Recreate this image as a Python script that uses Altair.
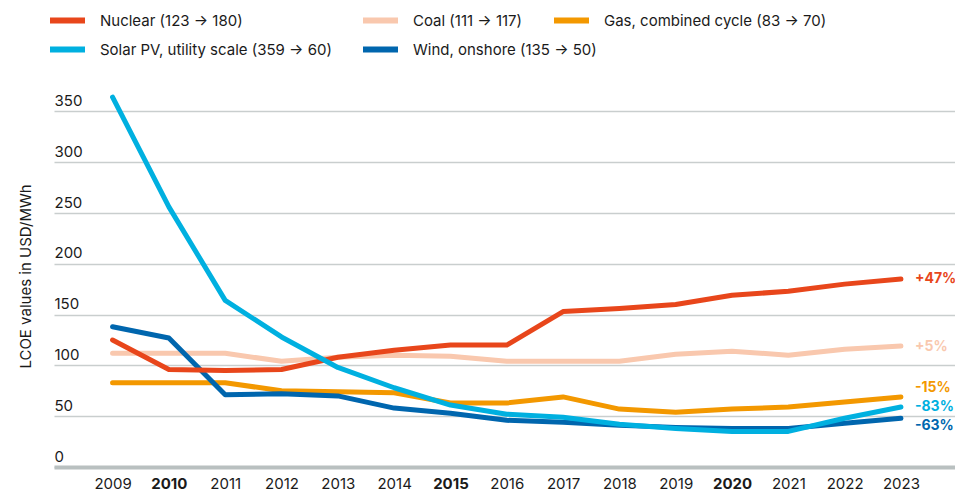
import altair as alt
import pandas as pd

years = list(range(2009, 2024))
series_names = ["Nuclear", "Coal", "Gas, combined cycle", "Solar PV, utility scale", "Wind, onshore"]
legend_labels = [
    "Nuclear (123 → 180)",
    "Coal (111 → 117)",
    "Gas, combined cycle (83 → 70)",
    "Solar PV, utility scale (359 → 60)",
    "Wind, onshore (135 → 50)",
]
nuclear = [125, 96, 95, 96, 108, 115, 120, 120, 153, 156, 160, 169, 173, 180, 185]
coal = [112, 112, 112, 104, 108, 110, 109, 104, 104, 104, 111, 114, 110, 116, 119]
gas = [83, 83, 83, 75, 74, 73, 63, 63, 69, 57, 54, 57, 59, 64, 69]
solar = [364, 256, 164, 128, 98, 78, 61, 52, 49, 42, 38, 35, 35, 48, 59]
wind = [138, 127, 71, 72, 70, 58, 53, 46, 44, 41, 39, 38, 38, 43, 48]
change_labels = ["+47%", "+5%", "-15%", "-83%", "-63%"]
y_ticks = [0, 50, 100, 150, 200, 250, 300, 350]

# styling
colors = ["#E8461B", "#F9C8AE", "#F39800", "#00B0E0", "#0066AE"]
label_nudge = [0, 1, -9, 0, 8]
legend_pos = {
    "Nuclear": (-7, -86),
    "Coal": (306, -86),
    "Gas, combined cycle": (497, -86),
    "Solar PV, utility scale": (-7, -57),
    "Wind, onshore": (306, -57),
}
draw_order = ["Gas, combined cycle", "Coal", "Wind, onshore", "Nuclear", "Solar PV, utility scale"]

rows = []
for name, lab, vals in zip(series_names, legend_labels, [nuclear, coal, gas, solar, wind]):
    for yr, v in zip(years, vals):
        rows.append({"year": yr, "value": v, "series": name, "label": lab})
df = pd.DataFrame(rows)

ends = pd.DataFrame({
    "series": series_names,
    "year": [years[-1]] * 5,
    "value": [s[-1] for s in [nuclear, coal, gas, solar, wind]],
    "text": change_labels,
})

x_scale = alt.Scale(domain=[2007.96, 2023.96], nice=False, zero=False)
y_scale = alt.Scale(domain=[0, 375], nice=False)

x_axis = alt.Axis(
    values=years, format="d", title=None, ticks=False, grid=False,
    domainColor="#B9C0C0", domainWidth=4, labelPadding=9, labelFontSize=15,
    labelColor="#1a1a1a",
    labelFontWeight={"condition": {"test": "datum.value % 5 === 0", "value": "bold"}, "value": "normal"},
)
y_axis = alt.Axis(
    values=y_ticks, title="LCOE values in USD/MWh", grid=True, gridColor="#C9CECE",
    gridWidth=1.5, domain=False, ticks=False, labelAlign="left", labelBaseline="alphabetic",
    labelPadding=0, labelOffset=-6, labelFontSize=15, labelColor="#1a1a1a",
    titleFontSize=15, titleFontWeight="normal", titleColor="#1a1a1a",
    titleX=-29, titleY=190, titleAngle=270, titleAlign="center", titleBaseline="middle",
)


def line_layer(name):
    i = series_names.index(name)
    lx, ly = legend_pos[name]
    sub = df[df.series == name]
    return alt.Chart(sub).mark_line(strokeWidth=5, strokeCap="round", strokeJoin="round").encode(
        x=alt.X("year:Q", scale=x_scale, axis=x_axis),
        y=alt.Y("value:Q", scale=y_scale, axis=y_axis),
        color=alt.Color(
            "label:N",
            scale=alt.Scale(domain=[legend_labels[i]], range=[colors[i]]),
            legend=alt.Legend(
                title=None, orient="none", legendX=lx, legendY=ly, direction="vertical",
                symbolType="stroke", symbolSize=1225, symbolStrokeWidth=6,
                labelFontSize=15, labelOffset=12, labelColor="#1a1a1a",
                labelLimit=400,
            ),
        ),
    )


layers = [line_layer(n) for n in draw_order]

for name, col, nudge in zip(series_names, colors, label_nudge):
    layers.append(
        alt.Chart(ends[ends.series == name]).mark_text(
            align="left", baseline="middle", dx=14, dy=nudge, fontWeight="bold",
            fontSize=14, color=col,
        ).encode(
            x=alt.X("year:Q", scale=x_scale),
            y=alt.Y("value:Q", scale=y_scale),
            text="text:N",
        )
    )

chart = alt.layer(*layers).resolve_scale(color="independent").properties(
    width=901, height=381,
    padding={"left": 46, "top": 78, "right": 0, "bottom": 25},
    autosize="none",
).configure(font="Inter").configure_view(stroke=None)

chart.save("out.html", embed_options={"renderer": "svg", "actions": False})
